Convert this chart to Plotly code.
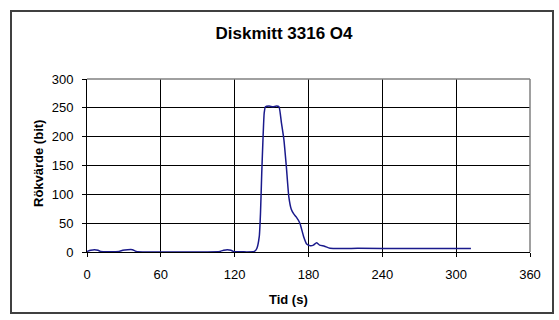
import plotly.graph_objects as go

# Time (s) and smoke value (bit)
tid = [0, 3, 6, 9, 11, 26, 29, 33, 37, 40, 108, 111, 114, 117, 119, 136,
       138, 140, 141, 142, 143, 144, 145, 148, 151, 154, 156, 158, 160, 162,
       164, 166, 168, 170, 173, 176, 178.5, 181.5, 184, 186.5, 189, 193,
       197.5, 220, 260, 300, 312]
rokvarde = [1, 3, 4, 3, 1, 1, 3, 4, 4, 1, 1, 3, 4, 3, 1, 1,
            6, 27, 68, 137, 195, 241, 252, 253, 252, 253, 252, 224, 195, 148,
            96, 74, 66, 61, 50, 27, 14, 11, 12, 16, 12, 10,
            6.5, 6.3, 6.2, 6.2, 6.2]

x_ticks = [0, 60, 120, 180, 240, 300, 360]
y_ticks = [0, 50, 100, 150, 200, 250, 300]

W, H = 559, 320
L, R, T, B = 87, 29, 79, 68
pw, ph = W - L - R, H - T - B

def px(x):
    return (x - L) / pw

def py(y):
    return (H - B - y) / ph

font = "Liberation Sans, Arial, sans-serif"

fig = go.Figure()
fig.add_trace(go.Scatter(
    x=tid, y=rokvarde, mode="lines",
    line=dict(color="#1a1a8c", width=1.5, shape="spline", smoothing=0.5),
    hoverinfo="skip", showlegend=False,
))

axis_common = dict(
    showgrid=True, gridcolor="#000000", gridwidth=1,
    showline=True, linecolor="#000000", linewidth=1,
    ticks="outside", ticklen=4, tickcolor="#000000",
    tickfont=dict(family=font, size=13, color="#000000"),
    zeroline=False, fixedrange=True,
)

fig.update_xaxes(range=[0, 360], tickvals=x_ticks, ticklabelstandoff=6, **axis_common)
fig.update_yaxes(range=[0, 300], tickvals=y_ticks, ticklabelstandoff=6, **axis_common)

fig.update_layout(
    width=W, height=H,
    margin=dict(l=L, r=R, t=T, b=B),
    paper_bgcolor="#ffffff", plot_bgcolor="#ffffff",
    title=dict(text="<b>Diskmitt 3316 O4</b>", x=284 / W, xanchor="center",
               y=1 - 33 / H, yanchor="middle",
               font=dict(family=font, size=17, color="#000000")),
    shapes=[
        # outer chart border
        dict(type="rect", xref="paper", yref="paper",
             x0=px(11), x1=px(553), y0=py(313), y1=py(11),
             line=dict(color="#404040", width=2), layer="below"),
        # gray plot-area frame (top and right)
        dict(type="line", xref="paper", yref="paper", x0=0, x1=1, y0=1, y1=1,
             line=dict(color="#808080", width=1.5), layer="above"),
        dict(type="line", xref="paper", yref="paper", x0=1, x1=1, y0=0, y1=1,
             line=dict(color="#808080", width=1.5), layer="above"),
    ],
    annotations=[
        dict(text="<b>Tid (s)</b>", xref="paper", yref="paper",
             x=px(288), y=py(299), xanchor="center", yanchor="middle",
             showarrow=False, font=dict(family=font, size=13, color="#000000")),
        dict(text="<b>Rökvärde (bit)</b>", xref="paper", yref="paper",
             x=px(38), y=py(164), xanchor="center", yanchor="middle",
             textangle=-90, showarrow=False,
             font=dict(family=font, size=13, color="#000000")),
    ],
)

fig.write_html(
    "out.html",
    config={"displayModeBar": False},
    post_script="document.body.style.margin='0';document.body.style.overflow='hidden';",
)
